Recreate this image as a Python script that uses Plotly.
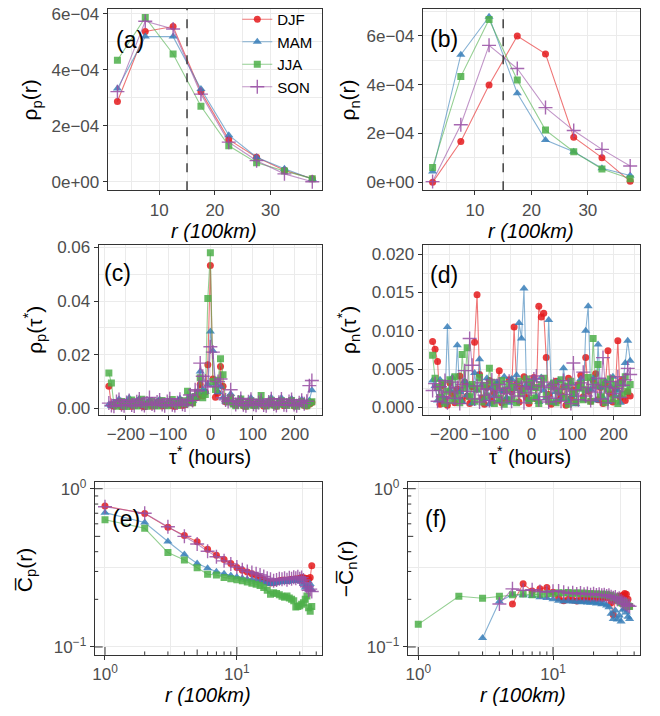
import math
import plotly.graph_objects as go

W, H = 660, 716
FONT = "Liberation Sans, Arial, sans-serif"

seasons = ["DJF", "MAM", "JJA", "SON"]
colors = {"DJF": "#E41A1C", "MAM": "#377EB8", "JJA": "#4DAF4A", "SON": "#984EA3"}
symbols = {"DJF": "circle", "MAM": "triangle-up", "JJA": "square", "SON": "cross-thin"}

# ---------------- panel (a) / (b) ----------------
r_bins = [2.5, 7.5, 12.5, 17.5, 22.5, 27.5, 32.5, 37.5]
rho_p_r = {
    "DJF": [2.87e-4, 5.36e-4, 5.54e-4, 3.22e-4, 1.51e-4, 0.88e-4, 0.42e-4, 0.12e-4],
    "MAM": [3.33e-4, 5.18e-4, 5.18e-4, 3.31e-4, 1.67e-4, 0.88e-4, 0.47e-4, 0.11e-4],
    "JJA": [4.34e-4, 5.86e-4, 4.56e-4, 2.70e-4, 1.29e-4, 0.69e-4, 0.39e-4, 0.12e-4],
    "SON": [3.22e-4, 5.73e-4, 5.45e-4, 3.13e-4, 1.42e-4, 0.76e-4, 0.29e-4, 0.01e-4],
}
rho_n_r = {
    "DJF": [0.00e-4, 1.67e-4, 3.99e-4, 5.99e-4, 5.26e-4, 1.85e-4, 1.01e-4, 0.04e-4],
    "MAM": [0.44e-4, 5.23e-4, 6.78e-4, 3.65e-4, 1.73e-4, 1.25e-4, 0.58e-4, 0.28e-4],
    "JJA": [0.61e-4, 4.33e-4, 6.67e-4, 4.19e-4, 2.14e-4, 1.25e-4, 0.55e-4, 0.15e-4],
    "SON": [0.03e-4, 2.36e-4, 5.61e-4, 4.66e-4, 3.06e-4, 2.12e-4, 1.35e-4, 0.67e-4],
}
r_threshold = 15

# ---------------- panel (c) / (d) ----------------
tau_hours = list(range(-240, 241, 6))
# values in units of 1e-3
rho_p_tau_milli = {
    "DJF": [8.3, 1.2, 0.8, 1.5, 2.6, 0.6, 1.0, 1.8, 2.4, 0.7,
            1.1, 2.1, 3.0, 0.9, 0.6, 1.7, 2.2, 0.8, 1.3, 2.0,
            2.7, 0.9, 1.2, 1.6, 2.4, 1.0, 0.7, 1.9, 3.1, 1.1,
            1.4, 2.2, 3.4, 2.0, 3.8, 4.2, 8.9, 4.6, 6.1, 16.3,
            53.3,
            11.0, 4.2, 5.8, 15.6, 8.3, 2.5, 3.0, 3.6, 1.8,
            1.2, 2.3, 2.9, 1.0, 0.8, 1.9, 2.5, 1.1, 1.4, 2.2,
            2.8, 0.9, 1.0, 1.7, 2.6, 1.2, 0.8, 2.0, 2.3, 1.0,
            1.5, 2.1, 2.7, 0.9, 1.3, 1.8, 2.4, 1.1, 0.9, 1.6, 2.2],
    "MAM": [1.5, 0.9, 2.2, 1.1, 3.4, 1.6, 0.8, 2.5, 3.9, 1.2,
            1.0, 2.8, 3.6, 1.4, 0.9, 2.3, 3.1, 1.5, 1.1, 2.6,
            3.3, 1.2, 0.9, 2.1, 3.0, 1.3, 1.6, 2.4, 3.7, 1.8,
            1.5, 2.9, 4.6, 2.8, 4.1, 6.0, 13.8, 7.0, 6.2, 9.0,
            28.7,
            21.5, 9.2, 6.0, 8.2, 4.1, 2.6, 3.3, 5.4, 2.4,
            1.4, 2.7, 3.8, 1.6, 1.0, 2.4, 3.9, 1.7, 1.2, 2.6,
            3.5, 1.4, 1.1, 2.3, 4.0, 1.6, 1.2, 2.7, 3.9, 1.5,
            1.3, 2.5, 3.6, 1.8, 1.1, 2.2, 3.3, 1.9, 2.3, 3.0, 6.8],
    "JJA": [13.2, 9.5, 1.4, 0.8, 1.9, 2.6, 1.0, 0.7, 2.1, 3.2,
            1.2, 0.9, 2.4, 3.4, 1.5, 0.8, 1.8, 2.7, 1.1, 0.9,
            2.2, 3.0, 1.4, 1.0, 2.5, 3.3, 1.6, 1.1, 2.0, 2.9,
            1.7, 6.4, 3.2, 2.1, 4.5, 6.0, 11.4, 4.0, 5.2, 41.0,
            58.0,
            10.0, 7.1, 10.5, 18.5, 12.6, 3.1, 2.4, 4.0, 1.7,
            1.0, 2.1, 3.5, 1.3, 0.8, 1.9, 2.8, 1.2, 1.0, 2.3,
            4.8, 1.6, 0.9, 2.2, 3.1, 1.3, 0.9, 1.8, 2.9, 1.5,
            1.1, 2.4, 3.0, 1.2, 0.8, 2.0, 2.6, 1.4, 1.0, 1.9, 2.5],
    "SON": [2.0, 1.1, 0.8, 2.6, 3.3, 1.4, 1.0, 2.2, 3.0, 1.3,
            0.9, 2.5, 3.5, 1.6, 1.1, 2.0, 4.1, 1.7, 1.2, 2.4,
            3.2, 1.5, 1.0, 2.6, 3.6, 1.4, 1.1, 2.1, 3.4, 1.6,
            1.3, 2.8, 5.0, 3.0, 7.0, 6.5, 16.9, 12.0, 10.2, 8.0,
            23.0,
            21.0, 8.3, 10.0, 11.0, 4.0, 3.2, 2.6, 7.0, 2.8,
            1.5, 2.4, 3.7, 1.4, 1.0, 2.5, 3.4, 1.6, 1.2, 2.2,
            3.1, 1.3, 1.0, 2.4, 3.6, 1.7, 1.1, 2.3, 3.5, 1.4,
            1.2, 2.6, 3.3, 1.5, 1.0, 2.1, 3.1, 1.8, 2.7, 8.5, 10.4],
}
rho_n_tau_milli = {
    "DJF": [8.6, 7.6, 6.0, 0.4, 2.9, 1.1, 0.3, 3.2, 1.8, 0.6,
            2.4, 4.1, 0.9, 3.3, 1.5, 0.5, 2.7, 8.5, 14.7, 4.3,
            1.2, 0.4, 2.6, 3.5, 0.8, 1.9, 3.0, 4.8, 0.6, 2.2,
            1.0, 3.6, 2.0, 10.5, 3.1, 0.7, 2.5, 4.0, 1.3, 0.5,
            2.8,
            3.9, 1.1, 13.2, 11.8, 12.3, 6.5, 1.7, 0.4, 2.9,
            3.4, 0.9, 1.6, 2.7, 0.3, 3.8, 1.2, 2.3, 0.6, 3.0,
            4.2, 1.4, 6.5, 2.1, 0.8, 3.5, 4.4, 1.0, 2.6, 0.5,
            3.1, 7.4, 1.8, 0.7, 2.4, 8.7, 1.3, 3.6, 0.9, 2.0, 1.5],
    "MAM": [3.5, 2.8, 0.9, 3.6, 1.4, 0.6, 10.5, 2.3, 3.9, 1.2,
            8.1, 2.0, 0.7, 3.4, 1.6, 2.9, 0.5, 4.5, 2.2, 6.3,
            3.0, 1.1, 3.8, 0.4, 2.6, 1.5, 3.3, 0.8, 2.1, 4.0,
            1.3, 0.6, 3.7, 2.4, 4.2, 11.0, 9.0, 15.5, 3.0, 1.0,
            2.5,
            3.6, 1.4, 0.7, 3.9, 2.2, 1.2, 11.4, 3.1, 0.6,
            2.0, 3.5, 1.1, 5.1, 2.7, 0.8, 3.2, 1.6, 0.4, 2.4,
            3.7, 1.0, 10.0, 13.2, 2.3, 3.8, 0.9, 8.2, 2.6, 1.3,
            3.4, 0.7, 2.8, 4.0, 1.5, 2.2, 0.6, 3.0, 5.8, 8.7, 6.1],
    "JJA": [6.8, 3.8, 2.6, 1.3, 3.2, 0.5, 2.1, 3.6, 0.9, 4.0,
            1.7, 0.6, 6.9, 2.5, 7.8, 1.4, 3.0, 0.8, 2.4, 3.9,
            0.7, 2.9, 1.5, 5.1, 3.3, 0.5, 2.7, 1.2, 3.5, 0.4,
            2.3, 3.1, 1.0, 2.6, 0.6, 3.4, 1.8, 2.2, 3.7, 0.9,
            3.3,
            1.2, 2.6, 0.5, 3.0, 3.8, 1.6, 0.8, 2.7, 3.2,
            0.6, 2.1, 3.6, 1.3, 2.8, 0.4, 3.4, 1.9, 0.7, 2.5,
            3.1, 1.0, 2.3, 3.9, 0.8, 9.0, 2.9, 5.6, 1.4, 3.3,
            0.6, 2.4, 3.7, 1.1, 2.9, 0.5, 3.2, 1.7, 4.0, 2.1, 3.0],
    "SON": [2.2, 3.1, 0.8, 2.7, 1.4, 3.5, 0.6, 2.0, 3.3, 1.2,
            2.6, 0.5, 3.0, 4.8, 2.1, 9.0, 5.5, 1.1, 2.8, 0.7,
            3.2, 1.6, 2.4, 0.9, 3.6, 1.3, 2.2, 3.0, 0.6, 2.5,
            1.8, 3.4, 0.8, 2.0, 3.1, 1.5, 2.7, 0.6, 3.3, 1.9,
            2.4,
            3.7, 4.1, 1.0, 2.8, 3.3, 1.4, 0.7, 2.6, 3.0,
            1.2, 2.4, 0.8, 3.5, 1.7, 2.9, 0.5, 5.8, 2.3, 1.0,
            3.2, 4.6, 1.5, 2.6, 0.9, 3.0, 2.0, 3.8, 1.1, 6.5,
            2.7, 0.6, 3.4, 1.8, 2.5, 4.0, 1.3, 2.9, 3.6, 5.1, 4.3],
}

# ---------------- panel (e) / (f) ----------------
r_dist = list(range(1, 38))
cp_r = {
    "DJF": [0.777, 0.696, 0.570, 0.506, 0.462, 0.414, 0.380, 0.357, 0.337, 0.318,
            0.305, 0.298, 0.290, 0.283, 0.275, 0.266, 0.258, 0.254, 0.255, 0.258,
            0.262, 0.264, 0.265, 0.263, 0.266, 0.268, 0.267, 0.270, 0.268, 0.272,
            0.275, 0.274, 0.272, 0.270, 0.268, 0.275, 0.326],
    "MAM": [0.706, 0.612, 0.464, 0.384, 0.337, 0.314, 0.299, 0.290, 0.283, 0.277,
            0.272, 0.268, 0.266, 0.262, 0.259, 0.256, 0.252, 0.250, 0.252, 0.255,
            0.256, 0.258, 0.260, 0.257, 0.262, 0.260, 0.264, 0.262, 0.265, 0.262,
            0.258, 0.250, 0.238, 0.245, 0.232, 0.250, 0.230],
    "JJA": [0.636, 0.562, 0.395, 0.354, 0.317, 0.288, 0.285, 0.275, 0.270, 0.266,
            0.262, 0.257, 0.253, 0.249, 0.245, 0.238, 0.228, 0.215, 0.220, 0.218,
            0.214, 0.209, 0.206, 0.210, 0.204, 0.200, 0.196, 0.179, 0.180, 0.182,
            0.186, 0.190, 0.200, 0.210, 0.177, 0.168, 0.180],
    "SON": [0.770, 0.700, 0.575, 0.500, 0.447, 0.403, 0.372, 0.350, 0.335, 0.320,
            0.308, 0.300, 0.296, 0.290, 0.285, 0.279, 0.272, 0.268, 0.262, 0.265,
            0.270, 0.268, 0.272, 0.266, 0.274, 0.270, 0.276, 0.272, 0.278, 0.270,
            0.275, 0.265, 0.255, 0.240, 0.228, 0.232, 0.224],
}
neg_cn_r = {
    "DJF": [None, None, None, None, 0.187, 0.251, 0.226, 0.233, 0.238, 0.222,
            0.205, 0.196, 0.200, 0.198, 0.195, 0.200, 0.198, 0.202, 0.199, 0.204,
            0.200, 0.206, 0.202, 0.208, 0.205, 0.210, 0.190, 0.160, 0.198, 0.205,
            0.210, 0.208, 0.212, 0.218, 0.215, 0.200, 0.180],
    "MAM": [None, None, 0.114, 0.194, 0.214, 0.212, 0.210, 0.206, 0.204, 0.200,
            0.196, 0.194, 0.195, 0.193, 0.194, 0.192, 0.193, 0.191, 0.190, 0.192,
            0.188, 0.190, 0.186, 0.188, 0.183, 0.178, 0.162, 0.150, 0.170, 0.149,
            0.158, 0.145, 0.172, 0.175, 0.165, 0.155, 0.150],
    "JJA": [0.139, 0.209, 0.203, 0.209, 0.214, 0.216, 0.214, 0.215, 0.217, 0.218,
            0.220, 0.219, 0.221, 0.218, 0.220, 0.217, 0.219, 0.216, 0.218, 0.215,
            0.217, 0.214, 0.216, 0.213, 0.215, 0.211, 0.212, 0.205, 0.208, 0.200,
            0.195, 0.190, 0.188, 0.192, 0.185, 0.182, 0.180],
    "SON": [None, None, None, 0.187, 0.233, 0.228, 0.230, 0.224, 0.222, 0.225,
            0.226, 0.222, 0.218, 0.220, 0.216, 0.219, 0.215, 0.218, 0.214, 0.217,
            0.213, 0.215, 0.212, 0.214, 0.210, 0.212, 0.208, 0.205, 0.207, 0.200,
            0.203, 0.196, 0.192, 0.188, 0.186, 0.183, 0.181],
}


def rgba(hex_color, a):
    h = hex_color.lstrip("#")
    r, g, b = int(h[0:2], 16), int(h[2:4], 16), int(h[4:6], 16)
    return f"rgba({r},{g},{b},{a})"


def px_x(x):
    return x / W


def px_y(y):
    return 1 - y / H


fig = go.Figure()


def add_series(x, y, s, axis_idx, showlegend=False):
    c = colors[s]
    sfx = "" if axis_idx == 1 else str(axis_idx)
    if s == "SON":
        marker = dict(symbol="cross-thin", size=10, color=rgba(c, 0.85),
                      line=dict(color=rgba(c, 0.85), width=1.4))
    else:
        size = {"DJF": 7, "MAM": 8, "JJA": 7}[s]
        marker = dict(symbol=symbols[s], size=size, color=rgba(c, 0.85), line=dict(width=0))
    fig.add_trace(go.Scatter(
        x=x, y=y, mode="lines+markers", name=s, legendgroup=s, showlegend=showlegend,
        line=dict(color=rgba(c, 0.6), width=1.1), marker=marker,
        xaxis="x" + sfx, yaxis="y" + sfx,
    ))


for s in seasons:
    add_series(r_bins, rho_p_r[s], s, 1, showlegend=True)
for s in seasons:
    add_series(r_bins, rho_n_r[s], s, 2)
for s in seasons:
    add_series(tau_hours, [v * 1e-3 for v in rho_p_tau_milli[s]], s, 3)
for s in seasons:
    add_series(tau_hours, [v * 1e-3 for v in rho_n_tau_milli[s]], s, 4)
for s in seasons:
    add_series(r_dist, cp_r[s], s, 5)
for s in seasons:
    add_series(r_dist, neg_cn_r[s], s, 6)

# panel geometry in pixels (left, right, top, bottom)
panels = {
    1: (106, 321, 2, 186),
    2: (422, 640, 2, 186),
    3: (97, 321, 242, 414),
    4: (422, 640, 242, 414),
    5: (93, 321, 482, 658),
    6: (407, 640, 482, 658),
}

GRID = "#EBEBEB"
LINE = "#333333"
TICKC = "#4D4D4D"

base_axis = dict(
    showline=True, mirror=True, linecolor=LINE, linewidth=1.1,
    ticks="outside", ticklen=4, tickwidth=1, tickcolor=LINE,
    showgrid=True, gridcolor=GRID, gridwidth=1.1, zeroline=False,
    tickfont=dict(family=FONT, size=17, color=TICKC),
)

layout = dict(
    width=W, height=H, margin=dict(l=0, r=0, t=0, b=0),
    paper_bgcolor="white", plot_bgcolor="white",
    font=dict(family=FONT),
    showlegend=True,
    legend=dict(x=px_x(236), y=px_y(-4), xanchor="left", yanchor="top",
                bgcolor="rgba(0,0,0,0)", font=dict(family=FONT, size=15, color="black"),
                tracegroupgap=0, itemwidth=30),
)

xranges = {1: [0.75, 39.25], 2: [0.75, 39.25], 3: [-264, 264], 4: [-264, 264],
           5: [-0.078, 1.646], 6: [-0.078, 1.646]}
yranges = {1: [-0.29e-4, 6.165e-4], 2: [-0.32e-4, 7.1e-4], 3: [-0.0023, 0.0608],
           4: [-0.00094, 0.02115], 5: [-1.05, 0.045], 6: [-1.05, 0.045]}

sci_vals = [0, 2e-4, 4e-4, 6e-4]
sci_text = ["0e+00", "2e\u221204", "4e\u221204", "6e\u221204"]

for i, (l, r, t, b) in panels.items():
    sfx = "" if i == 1 else str(i)
    xa = dict(base_axis, domain=[px_x(l), px_x(r)], range=xranges[i],
              anchor="y" + sfx)
    ya = dict(base_axis, domain=[px_y(b), px_y(t)], range=yranges[i],
              anchor="x" + sfx)
    if i in (1, 2):
        xa.update(tickvals=[10, 20, 30], minor=dict(tick0=0, dtick=5, showgrid=True,
                                                     gridcolor=GRID, gridwidth=0.6, ticks=""))
        ya.update(tickvals=sci_vals, ticktext=sci_text,
                  minor=dict(tick0=0, dtick=1e-4, showgrid=True, gridcolor=GRID,
                             gridwidth=0.6, ticks=""))
    elif i in (3, 4):
        xa.update(tickvals=[-200, -100, 0, 100, 200],
                  ticktext=["\u2212200", "\u2212100", "0", "100", "200"],
                  minor=dict(tick0=-250, dtick=100, showgrid=True, gridcolor=GRID,
                             gridwidth=0.6, ticks=""))
        if i == 3:
            ya.update(tickvals=[0, 0.02, 0.04, 0.06], tickformat=".2f",
                      minor=dict(tick0=0.01, dtick=0.02, showgrid=True, gridcolor=GRID,
                                 gridwidth=0.6, ticks=""))
        else:
            ya.update(tickvals=[0, 0.005, 0.01, 0.015, 0.02], tickformat=".3f",
                      minor=dict(tick0=0.0025, dtick=0.005, showgrid=True, gridcolor=GRID,
                                 gridwidth=0.6, ticks=""))
    else:
        xa.update(type="log", tickvals=[1, 10], ticktext=["10<sup>0</sup>", "10<sup>1</sup>"],
                  minor=dict(tickvals=[10 ** 0.5, 10 ** 1.5], showgrid=True, gridcolor=GRID,
                             gridwidth=0.6, ticks=""))
        ya.update(type="log", tickvals=[0.1, 1],
                  ticktext=["10<sup>\u22121</sup>", "10<sup>0</sup>"],
                  minor=dict(tickvals=[10 ** -0.5], showgrid=True, gridcolor=GRID,
                             gridwidth=0.6, ticks=""))
    layout["xaxis" + sfx] = xa
    layout["yaxis" + sfx] = ya

fig.update_layout(**layout)

# dashed threshold lines in (a) and (b)
for sfx in ["", "2"]:
    fig.add_shape(type="line", xref="x" + sfx, yref=f"y{sfx} domain",
                  x0=r_threshold, x1=r_threshold, y0=0, y1=1,
                  line=dict(color="#333333", width=1.4, dash="dash"))

# log ticks (annotation_logticks style) for (e) and (f)
x_log_ticks = [1, 2, 3, 4, 5, 6, 7, 8, 9, 10, 20, 30, 40]
y_log_ticks = [0.1, 0.2, 0.3, 0.4, 0.5, 0.6, 0.7, 0.8, 0.9, 1.0]


def tick_len(v):
    m = v / (10 ** math.floor(math.log10(v) + 1e-9))
    if abs(m - 1) < 1e-6:
        return 8
    if abs(m - 5) < 1e-6:
        return 5.5
    return 3.5


for i in (5, 6):
    l, r, t, b = panels[i]
    pw, ph = r - l, b - t
    for v in x_log_ticks:
        fig.add_shape(type="line", xref=f"x{i}", yref=f"y{i} domain",
                      x0=v, x1=v, y0=0, y1=tick_len(v) / ph,
                      line=dict(color=LINE, width=1))
    for v in y_log_ticks:
        fig.add_shape(type="line", xref=f"x{i} domain", yref=f"y{i}",
                      x0=0, x1=tick_len(v) / pw, y0=v, y1=v,
                      line=dict(color=LINE, width=1))

# annotations: panel labels and axis titles
ann = []


def text_at(x, y, txt, size, angle=0, color="black"):
    ann.append(dict(x=px_x(x), y=px_y(y), xref="paper", yref="paper", text=txt,
                    showarrow=False, textangle=angle, xanchor="center", yanchor="middle",
                    font=dict(family=FONT, size=size, color=color)))


for (x, y, lab) in [(128, 34, "(a)"), (443, 33, "(b)"), (116, 270, "(c)"),
                    (443, 272, "(d)"), (124, 520, "(e)"), (435, 520, "(f)")]:
    text_at(x, y, lab, 23)

xt_r = "<i>r (100km)</i>"
xt_tau = "\u03c4<sup>*</sup> (hours)"
for (x, y, t) in [(213, 227, xt_r), (531, 227, xt_r), (209, 456, xt_tau),
                  (530, 456, xt_tau), (207, 699, xt_r), (523, 699, xt_r)]:
    text_at(x, y, t, 20)

for (x, y, t) in [(29, 94, "\u03c1<sub>p</sub>(r)"), (348, 94, "\u03c1<sub>n</sub>(r)"),
                  (33, 328, "\u03c1<sub>p</sub>(\u03c4<sup>*</sup>)"),
                  (348, 328, "\u03c1<sub>n</sub>(\u03c4<sup>*</sup>)"),
                  (24, 572, "C\u0305<sub>p</sub>(r)"),
                  (346, 570, "\u2212C\u0305<sub>n</sub>(r)")]:
    text_at(x, y, t, 21, angle=-90)

fig.update_layout(annotations=ann)

fig.write_html("out.html", config={"displayModeBar": False},
               post_script="document.body.style.margin='0';document.body.style.overflow='hidden';")
